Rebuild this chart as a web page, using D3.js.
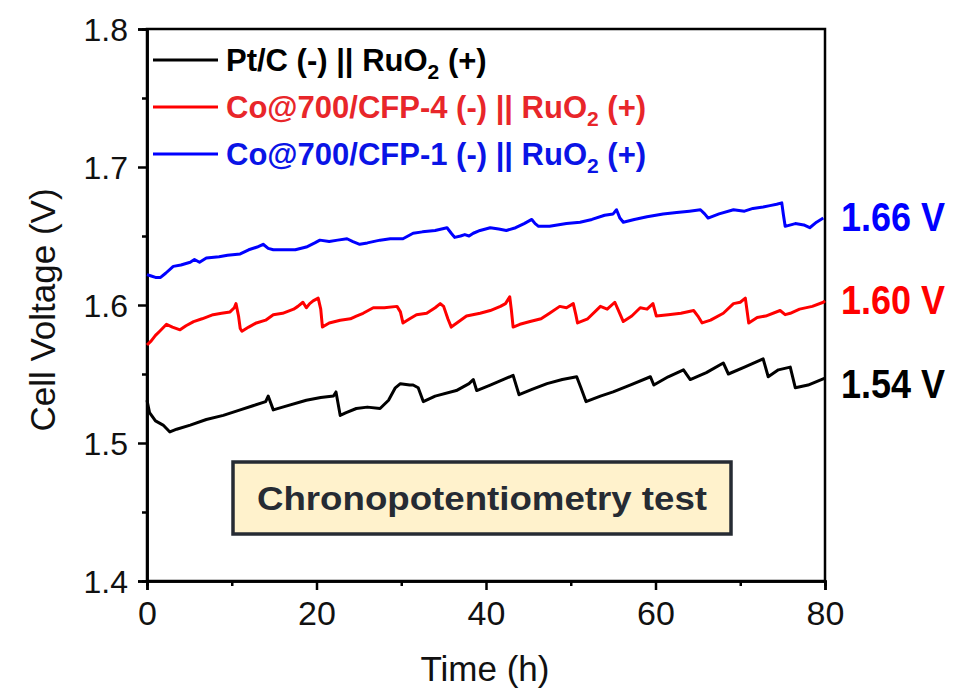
<!DOCTYPE html>
<html><head><meta charset="utf-8">
<script src="https://cdn.jsdelivr.net/npm/d3@7/dist/d3.min.js"></script>
<style>body{margin:0;background:#fff;} svg{display:block;font-family:"Liberation Sans",Arial,sans-serif;}</style>
</head><body>
<svg id="c" width="968" height="690"></svg>
<script>
const xTicks = [0, 20, 40, 60, 80];
const xMinor = [10, 30, 50, 70];
const yTicks = [1.4, 1.5, 1.6, 1.7, 1.8];
const yMinor = [1.45, 1.55, 1.65, 1.75];
const seriesNames = ["Pt/C (-) || RuO", "Co@700/CFP-4 (-) || RuO", "Co@700/CFP-1 (-) || RuO"];
const endLabels = ["1.54 V", "1.60 V", "1.66 V"];
const boxText = "Chronopotentiometry test";

const ptc = [[0,1.531],[0.3,1.522],[1.0,1.516],[1.9,1.513],[2.7,1.508],[3.5,1.510],[5.1,1.513],[7,1.517],[9,1.520],[11,1.524],[12.5,1.527],[14.0,1.530],[14.3,1.534],[14.9,1.524],[16,1.526],[18.8,1.531],[20.5,1.533],[22.0,1.534],[22.3,1.537],[22.8,1.520],[23.5,1.522],[24.7,1.525],[26,1.526],[27.5,1.525],[28.5,1.531],[29.3,1.540],[29.9,1.543],[31.0,1.542],[31.4,1.542],[32.0,1.540],[32.6,1.530],[34,1.534],[36.5,1.538],[38.0,1.543],[38.5,1.546],[38.9,1.538],[40.5,1.542],[43.2,1.549],[43.9,1.535],[45.5,1.539],[47.2,1.543],[49,1.546],[50.7,1.548],[51.2,1.540],[51.8,1.530],[53.5,1.534],[55.0,1.537],[57,1.542],[59.4,1.548],[59.8,1.542],[61.5,1.548],[63.3,1.553],[64.1,1.546],[66,1.551],[68.0,1.558],[68.6,1.550],[70.5,1.555],[72.7,1.561],[73.3,1.548],[74.5,1.553],[75.9,1.555],[76.5,1.540],[78,1.542],[80,1.547]];

const cfp4 = [[0,1.571],[0.5,1.574],[1.0,1.578],[1.5,1.581],[2.3,1.586],[3.0,1.584],[3.9,1.582],[4.6,1.585],[5.5,1.588],[6.5,1.590],[7.8,1.593],[8.8,1.594],[9.8,1.595],[10.3,1.598],[10.5,1.601],[10.8,1.592],[11.0,1.583],[11.2,1.581],[12.0,1.584],[12.9,1.587],[14.0,1.589],[14.9,1.593],[16,1.594],[17.3,1.597],[17.8,1.599],[18.4,1.602],[18.8,1.598],[19.2,1.601],[19.6,1.603],[20.2,1.605],[20.5,1.597],[20.7,1.584],[21.5,1.587],[22.8,1.589],[24.0,1.590],[24.7,1.592],[25.5,1.594],[26.7,1.598],[28.0,1.598],[29.5,1.599],[29.9,1.595],[30.2,1.587],[31.0,1.590],[31.8,1.593],[33,1.594],[34.0,1.598],[34.6,1.601],[35.0,1.599],[35.5,1.590],[35.9,1.584],[36.8,1.588],[37.7,1.592],[39.3,1.594],[40.5,1.596],[41.7,1.599],[42.3,1.601],[42.8,1.606],[43.0,1.596],[43.2,1.584],[44.0,1.586],[45.2,1.588],[46.5,1.590],[47.5,1.594],[48.7,1.599],[49.5,1.598],[50.3,1.601],[50.6,1.593],[50.8,1.587],[52,1.590],[53.5,1.599],[54.3,1.597],[55.2,1.602],[55.7,1.595],[56.2,1.588],[57.2,1.592],[58.2,1.598],[59.0,1.597],[59.7,1.601],[60.1,1.592],[61.5,1.593],[63.0,1.594],[64.5,1.596],[65.0,1.592],[65.5,1.587],[66.5,1.589],[68.0,1.594],[69.2,1.601],[70.0,1.602],[70.6,1.605],[70.8,1.596],[71.0,1.587],[72.0,1.591],[73.0,1.592],[74.7,1.596],[75.3,1.593],[75.9,1.594],[77.0,1.597],[78.5,1.599],[79.8,1.602],[80,1.603]];

const cfp1 = [[0,1.622],[0.5,1.621],[1.0,1.620],[1.6,1.620],[2.2,1.623],[3.1,1.628],[4.0,1.629],[5.1,1.631],[5.6,1.633],[6.2,1.631],[7.0,1.634],[8.5,1.635],[9.5,1.636],[11.0,1.637],[12.0,1.640],[13.0,1.642],[13.7,1.644],[14.3,1.641],[14.9,1.640],[16,1.640],[17.5,1.640],[18.8,1.642],[19.8,1.645],[20.4,1.647],[21.5,1.646],[22.5,1.647],[23.6,1.648],[24.3,1.646],[25.1,1.644],[26,1.645],[27.5,1.647],[28.7,1.648],[29.5,1.648],[30.2,1.648],[30.8,1.650],[31.4,1.652],[32.5,1.653],[34,1.654],[35.4,1.656],[35.9,1.652],[36.3,1.649],[37,1.650],[37.5,1.651],[38.0,1.650],[38.5,1.652],[39.3,1.654],[40.5,1.656],[41.5,1.655],[42.4,1.654],[43.5,1.656],[44.5,1.659],[45.4,1.662],[45.8,1.659],[46.2,1.657],[47.5,1.657],[49.5,1.659],[51.1,1.660],[52.5,1.662],[54,1.665],[55.0,1.666],[55.4,1.669],[55.8,1.663],[56.2,1.660],[57.5,1.662],[59,1.664],[60.9,1.666],[62.5,1.667],[64,1.668],[65.3,1.669],[65.8,1.666],[66.2,1.663],[67.5,1.666],[69.2,1.669],[70.5,1.668],[71.5,1.670],[72.7,1.671],[73.5,1.672],[74.3,1.673],[74.9,1.674],[75.1,1.665],[75.3,1.657],[76.5,1.659],[77.5,1.658],[78.2,1.656],[79.0,1.660],[79.8,1.663]];

const svg = d3.select("#c");
const L = 147, R = 825, T = 29, B = 581;
const x = d3.scaleLinear().domain([0, 80]).range([L, R]);
const y = d3.scaleLinear().domain([1.4, 1.8]).range([B, T]);

// frame
svg.append("rect").attr("x", L).attr("y", T).attr("width", R - L).attr("height", B - T)
  .attr("fill", "none").attr("stroke", "#000").attr("stroke-width", 2.5);

// axes
const xAxis = svg.append("g").attr("transform", `translate(0,${B})`)
  .call(d3.axisBottom(x).tickValues(xTicks).tickSize(9).tickPadding(11).tickFormat(d3.format("d")));
const xAxisMinor = svg.append("g").attr("transform", `translate(0,${B})`)
  .call(d3.axisBottom(x).tickValues(xMinor).tickSize(5).tickFormat(""));
const yAxis = svg.append("g").attr("transform", `translate(${L},0)`)
  .call(d3.axisLeft(y).tickValues(yTicks).tickSize(9).tickPadding(10).tickFormat(d3.format(".1f")));
const yAxisMinor = svg.append("g").attr("transform", `translate(${L},0)`)
  .call(d3.axisLeft(y).tickValues(yMinor).tickSize(5).tickFormat(""));
[xAxis, xAxisMinor, yAxis, yAxisMinor].forEach(g => {
  g.select(".domain").attr("stroke-width", 2.5);
  g.selectAll(".tick line").attr("stroke-width", 2.5);
  g.selectAll(".tick text").attr("fill", "#111")
    .attr("font-family", "'Liberation Sans',Arial,sans-serif");
});
xAxis.selectAll(".tick text").attr("font-size", 34);
yAxis.selectAll(".tick text").attr("font-size", 32).attr("dy", "0.36em");

// axis titles
svg.append("text").attr("x", 485).attr("y", 681).attr("text-anchor", "middle")
  .attr("font-size", 35).attr("fill", "#111").text("Time (h)");
svg.append("text").attr("transform", `translate(55,310) rotate(-90)`).attr("text-anchor", "middle")
  .attr("font-size", 35).attr("fill", "#111").text("Cell Voltage (V)");

// lines
const line = d3.line().x(d => x(d[0])).y(d => y(d[1]));
const series = [
  {data: ptc, color: "#000000", text: "#000000"},
  {data: cfp4, color: "#ff0000", text: "#e8262a"},
  {data: cfp1, color: "#0000ff", text: "#0a14e6"}
];
series.forEach(s => {
  svg.append("path").datum(s.data).attr("d", line).attr("fill", "none")
    .attr("stroke", s.color).attr("stroke-width", 3).attr("stroke-linejoin", "round");
});

// legend
const legY = [60, 107, 154];
series.forEach((s, i) => {
  svg.append("line").attr("x1", 153).attr("x2", 218).attr("y1", legY[i]).attr("y2", legY[i])
    .attr("stroke", s.color).attr("stroke-width", 3);
  const t = svg.append("text").attr("x", 226).attr("y", legY[i] + 11).attr("font-size", 31)
    .attr("font-weight", "bold").attr("fill", s.text);
  t.append("tspan").text(seriesNames[i]);
  t.append("tspan").attr("font-size", 21).attr("dy", 8).text("2");
  t.append("tspan").attr("dy", -8).text(" (+)");
});

// end labels
const endY = [1.5425, 1.6035, 1.6635];
const endCol = ["#000000", "#ff0000", "#0000ff"];
endLabels.forEach((lab, i) => {
  svg.append("text").attr("x", 841).attr("y", y(endY[i]) + 14).attr("font-size", 40)
    .attr("font-weight", "bold").attr("fill", endCol[i])
    .attr("textLength", 104).attr("lengthAdjust", "spacingAndGlyphs").text(lab);
});

// annotation box
svg.append("rect").attr("x", 233).attr("y", 462).attr("width", 498).attr("height", 72)
  .attr("fill", "#fff2cc").attr("stroke", "#262b33").attr("stroke-width", 3.5);
svg.append("text").attr("x", 482).attr("y", 510).attr("text-anchor", "middle")
  .attr("font-size", 34).attr("font-weight", "bold").attr("fill", "#262b33")
  .attr("textLength", 450).attr("lengthAdjust", "spacingAndGlyphs").text(boxText);
</script>
</body></html>
